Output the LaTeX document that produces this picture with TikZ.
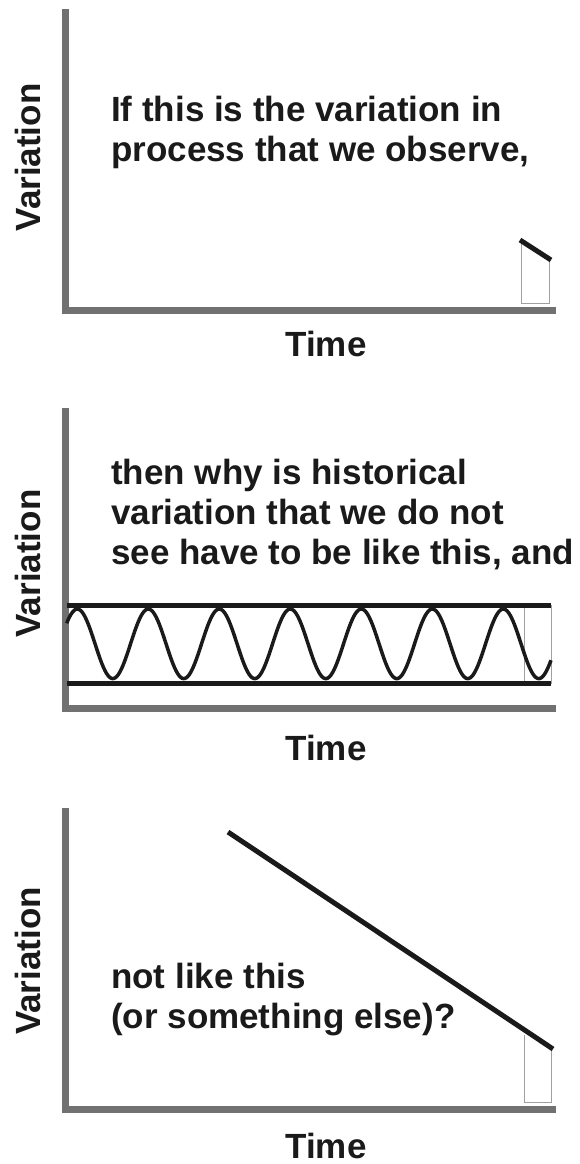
\documentclass[tikz,border=0pt]{standalone}
\usepackage{fontspec}
\setmainfont{Liberation Sans}
\usepackage{xcolor}
\usepackage{tikz}
\usetikzlibrary{positioning}
\definecolor{axisgray}{HTML}{717171}
\definecolor{boxgray} {HTML}{A0A0A0}
\definecolor{inkblack}{HTML}{1A1A1A}

\begin{document}
\begin{tikzpicture}[
    x=1pt, y=-1pt,
    axis/.style={draw=axisgray, line width=7pt},
    winbox/.style={draw=boxgray, line width=1pt},
    trend/.style={draw=inkblack, line width=5pt},
    wave/.style={draw=inkblack, line width=3.5pt},
    axlabel/.style={font=\fontsize{35}{40}\selectfont\bfseries,
                    text=inkblack, inner sep=0pt},
    note/.style={font=\fontsize{35}{40}\selectfont\bfseries,
                 text=inkblack, inner sep=0pt, align=left,
                 anchor=north west},
  ]
    \useasboundingbox (0,0) rectangle (579,1164);

    % Panel 1: what we observe
    \draw[axis] (65.5,9) -- (65.5,310) -- (556,310);
    \draw[winbox] (521,241) -- (521,303) -- (549,303) -- (549,259);
    \draw[trend] (520,240) -- (551,260);

    \node[axlabel, rotate=90] (var1) at (27.5,157.5) {Variation};
    \node[axlabel, anchor=base] (time1) at (326,356.7) {Time};
    \node[note] (observe) at (111,96)
      {If this is the variation in\\process that we observe,};

    % Panel 2: steady band
    \draw[axis] (65.5,408) -- (65.5,708) -- (556,708);
    \draw[winbox] (524,605) rectangle (551,683);
    \draw[trend] (66.7,605) -- (551,605);
    \draw[trend] (66.7,683) -- (551,683);
    \draw[wave] plot[domain=66.7:551, samples=320]
      (\x, {643.8 - 34.8*cos(5.0704*(\x-77.3))});

    \node[axlabel, rotate=90] (var2) at (27.5,563.5) {Variation};
    \node[axlabel, anchor=base] (time2) at (326,760) {Time};
    \node[note] (history) at (111,459.4)
      {then why is historical\\variation that we do not\\see have to be like this, and};

    % Panel 3: falling trend
    \draw[axis] (65.5,808) -- (65.5,1109.5) -- (556,1109.5);
    \draw[winbox] (524,1035) -- (524,1102) -- (551,1102) -- (551,1049);
    \draw[trend] (228,832) -- (553,1049);

    \node[axlabel, rotate=90] (var3) at (27.5,961) {Variation};
    \node[axlabel, anchor=base] (time3) at (326,1158) {Time};
    \node[note] (other) at (111,962.7)
      {not like this\\(or something else)?};
\end{tikzpicture}
\end{document}
